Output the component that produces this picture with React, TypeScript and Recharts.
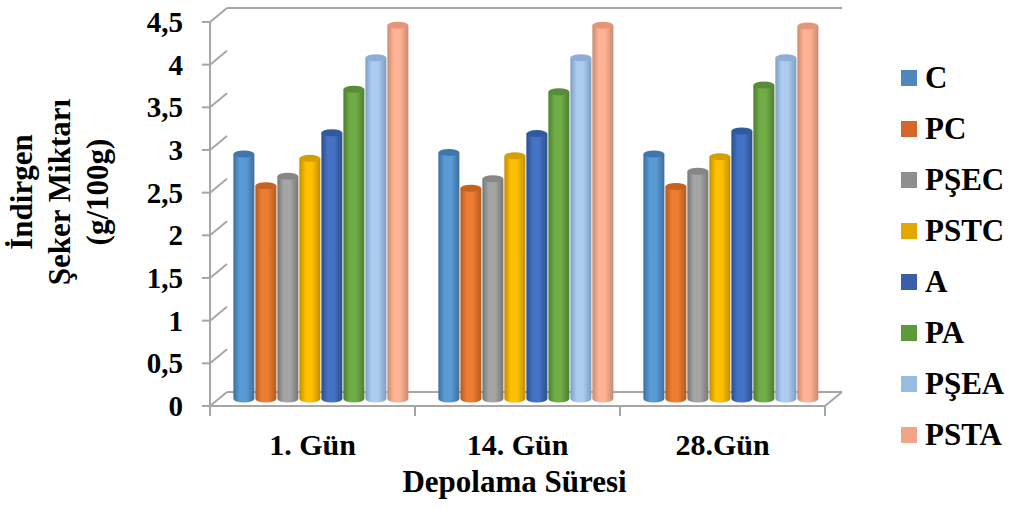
import React from "react";
import { BarChart, Bar, XAxis, YAxis, CartesianGrid, Legend, Label } from "recharts";

// categories (storage time) and the eight sample groups
const days = ["1. Gün", "14. Gün", "28.Gün"];
const groups = ["C", "PC", "PŞEC", "PSTC", "A", "PA", "PŞEA", "PSTA"];

// reducing sugar, g/100g, one value per day
const valC = [2.87, 2.89, 2.87];
const valPC = [2.5, 2.47, 2.49];
const valPSEC = [2.61, 2.58, 2.67];
const valPSTC = [2.82, 2.85, 2.84];
const valA = [3.12, 3.11, 3.14];
const valPA = [3.63, 3.6, 3.68];
const valPSEA = [4.0, 4.0, 4.0];
const valPSTA = [4.38, 4.38, 4.37];
const seriesValues = [valC, valPC, valPSEC, valPSTC, valA, valPA, valPSEA, valPSTA];

const yTicks = [0, 0.5, 1, 1.5, 2, 2.5, 3, 3.5, 4, 4.5];

// styling
const W = 1013;
const H = 510;
const FONT = "'Liberation Serif', 'Times New Roman', serif";
const GRID = "#a6a6a6";
const DEPTH_X = 17; // 3d depth offset of the back wall
const DEPTH_Y = 14;
const BAR_DX = 8; // bars stand half way into the depth
const BAR_DY = 7;

const legendColors = ["#4e86bd", "#d4682c", "#8f8f8f", "#e2a800", "#3a5fa8", "#5e9a3c", "#99bce2", "#f0a686"];
const bodyLight = ["#5b9bd5", "#ed7d31", "#a5a5a5", "#ffc000", "#4472c4", "#70ad47", "#acccf0", "#ffb394"];
const bodyEdge = ["#3a6f9f", "#b35a1f", "#767676", "#c08e00", "#2c4f8c", "#4d7e30", "#7d9dc2", "#c98a70"];
const topColors = ["#3f76ad", "#c6611f", "#868686", "#d4a000", "#30599f", "#578d37", "#8eaed6", "#e4967a"];

const data = days.map((day, i) => {
    const row: Record<string, string | number> = { day };
    groups.forEach((g, s) => {
        row[g] = seriesValues[s][i];
    });
    return row;
});

const fmt = (v: number) => String(v).replace(".", ",");

const textStyle = { fontFamily: FONT, fontWeight: 700, fill: "#000" };

/** Cylinder bar, shifted into the middle of the 3d depth. */
function Cylinder(props: any) {
    const { x, y, width, height, s } = props;
    if (width == null || height == null || height <= 0) return null;
    const left = x + BAR_DX;
    const right = left + width;
    const top = y - BAR_DY;
    const bottom = y + height - BAR_DY;
    const rx = width / 2;
    const ry = 3.5;
    return (
        <g>
            <path
                d={`M${left},${top} L${left},${bottom} A${rx},${ry} 0 0 0 ${right},${bottom} L${right},${top} Z`}
                fill={`url(#cyl${s})`}
            />
            <ellipse cx={left + rx} cy={top} rx={rx} ry={ry} fill={topColors[s]} />
        </g>
    );
}

function YTick(props: any) {
    const { x, y, payload } = props;
    return (
        <g>
            <line x1={x - 8} y1={y} x2={x} y2={y} stroke={GRID} strokeWidth={2} />
            <line x1={x} y1={y} x2={x + DEPTH_X} y2={y - DEPTH_Y} stroke={GRID} strokeWidth={2} />
            <text x={x - 27} y={y} dy="0.35em" textAnchor="end" fontSize={29} {...textStyle}>
                {fmt(payload.value)}
            </text>
        </g>
    );
}

function XTick(props: any) {
    const { x, y, payload, index, width, visibleTicksCount } = props;
    const half = payload.offset ?? width / (visibleTicksCount * 2);
    const last = index === visibleTicksCount - 1;
    return (
        <g>
            {index === 0 && (
                <line x1={x - half} y1={y} x2={x - half} y2={y + 10} stroke={GRID} strokeWidth={2} />
            )}
            <line x1={x + half} y1={y} x2={x + half} y2={y + 10} stroke={GRID} strokeWidth={2} />
            {last && (
                <line
                    x1={x + half} y1={y}
                    x2={x + half + DEPTH_X} y2={y - DEPTH_Y}
                    stroke={GRID} strokeWidth={2}
                />
            )}
            <text x={x} y={y + 49} textAnchor="middle" fontSize={30} {...textStyle}>
                {payload.value}
            </text>
        </g>
    );
}

const XTitle = (props: any) => {
    const vb = props.viewBox;
    return (
        <text x={vb.x + vb.width / 2 - 3} y={vb.y + 86} textAnchor="middle" fontSize={31} {...textStyle}>
            Depolama Süresi
        </text>
    );
};

const YTitle = () => {
    const lines = ["İndirgen", "Şeker Miktarı", "(g/100g)"];
    const baselines = [32, 70, 108];
    return (
        <g>
            {lines.map((t, i) => (
                <text
                    key={t}
                    transform={`translate(${baselines[i]},192) rotate(-90)`}
                    textAnchor="middle"
                    fontSize={31}
                    {...textStyle}
                >
                    {t}
                </text>
            ))}
        </g>
    );
};

const renderLegend = (props: any) => {
    // keep the series order, not the alphabetical one
    const payload = [...(props.payload || [])].sort(
        (a: any, b: any) => groups.indexOf(a.value) - groups.indexOf(b.value)
    );
    return (
        <div>
            {payload.map((entry: any) => (
                <div
                    key={entry.value}
                    style={{ display: "flex", alignItems: "center", height: 51 }}
                >
                    <span style={{ width: 16, height: 16, background: entry.color, marginRight: 8 }} />
                    <span
                        style={{
                            fontFamily: FONT, fontWeight: 700, fontSize: 31, lineHeight: 1, color: "#000",
                        }}
                    >
                        {entry.value}
                    </span>
                </div>
            ))}
        </div>
    );
};

export default function App() {
    return (
        <div style={{ position: "absolute", left: 0, top: 0, width: W, height: H, background: "#fff" }}>
            <svg width={0} height={0} style={{ position: "absolute" }}>
                <defs>
                    {groups.map((g, s) => (
                        <linearGradient key={g} id={`cyl${s}`} x1="0" y1="0" x2="1" y2="0">
                            <stop offset="0%" stopColor={bodyEdge[s]} />
                            <stop offset="30%" stopColor={bodyLight[s]} />
                            <stop offset="60%" stopColor={bodyLight[s]} />
                            <stop offset="100%" stopColor={bodyEdge[s]} />
                        </linearGradient>
                    ))}
                </defs>
            </svg>

            {/* back wall of the 3d box */}
            <div style={{ position: "absolute", left: 0, top: 0 }}>
                <BarChart
                    width={W}
                    height={H}
                    data={data}
                    margin={{ top: 22 - DEPTH_Y, left: 210 + DEPTH_X, right: 188 - DEPTH_X, bottom: 104 + DEPTH_Y }}
                >
                    <CartesianGrid vertical={false} stroke={GRID} strokeWidth={2} />
                    <XAxis dataKey="day" hide />
                    <YAxis hide domain={[0, 4.5]} ticks={yTicks} />
                </BarChart>
            </div>

            {/* front: axes, bars, legend */}
            <div style={{ position: "absolute", left: 0, top: 0 }}>
                <BarChart
                    width={W}
                    height={H}
                    data={data}
                    margin={{ top: 22, left: 130, right: 188, bottom: 44 }}
                    barCategoryGap="7.5%"
                    barGap={1}
                >
                    <XAxis
                        dataKey="day"
                        height={60}
                        axisLine={{ stroke: GRID, strokeWidth: 2 }}
                        tickLine={false}
                        tickSize={0}
                        tickMargin={0}
                        tick={<XTick />}
                        interval={0}
                    >
                        <Label content={<XTitle />} />
                    </XAxis>
                    <YAxis
                        width={80}
                        domain={[0, 4.5]}
                        ticks={yTicks}
                        interval={0}
                        axisLine={{ stroke: GRID, strokeWidth: 2 }}
                        tickLine={false}
                        tickSize={0}
                        tickMargin={0}
                        tick={<YTick />}
                    >
                        <Label content={<YTitle />} />
                    </YAxis>
                    <Legend
                        layout="vertical"
                        align="center"
                        verticalAlign="middle"
                        content={renderLegend}
                        wrapperStyle={{ left: 901, top: 52, width: "auto", height: "auto" }}
                    />
                    {groups.map((g, s) => (
                        <Bar
                            key={g}
                            dataKey={g}
                            name={g}
                            fill={legendColors[s]}
                            isAnimationActive={false}
                            shape={(p: any) => <Cylinder {...p} s={s} />}
                        />
                    ))}
                </BarChart>
            </div>
        </div>
    );
}
